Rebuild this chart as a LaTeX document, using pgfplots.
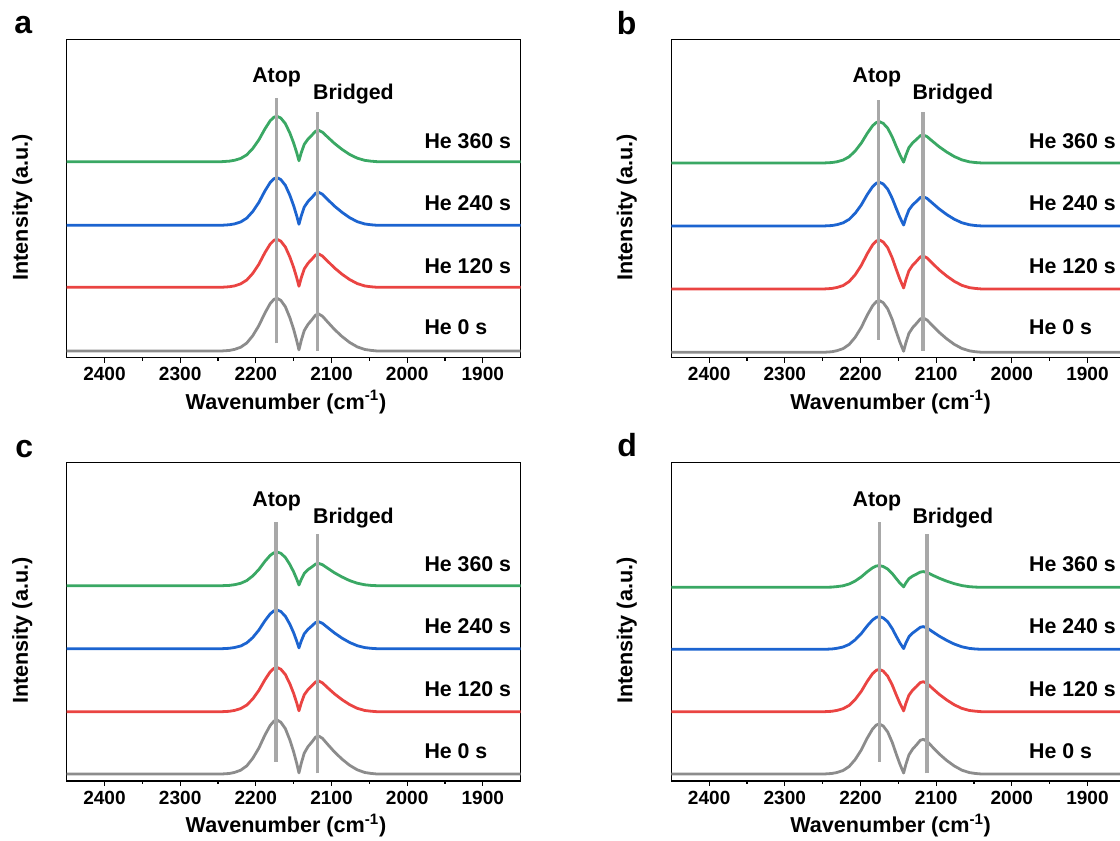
\documentclass[border=0pt]{standalone}
\usepackage{fontspec}
\setmainfont{Liberation Sans}
\usepackage{pgfplots}
\usepackage{pgfplotstable}
\pgfplotsset{compat=1.18}

\definecolor{cgray}{RGB}{140,140,140}
\definecolor{cred}{RGB}{234,68,66}
\definecolor{cblue}{RGB}{28,100,208}
\definecolor{cgreen}{RGB}{58,168,100}
\definecolor{cmark}{RGB}{168,168,168}

% Stacked CO-DRIFTS spectra, offset per trace (columns: wavenumber, He 0/120/240/360 s)
\pgfplotstableread{
w gray red blue green
2450 6.7 70.4 132.4 196.0
2245 6.7 70.4 132.4 196.0
2235 7.2 70.9 132.9 196.5
2228 8.3 71.8 133.8 197.4
2220 10.4 73.8 135.7 199.2
2212 14.6 77.6 139.5 202.8
2204 22.0 84.3 146.2 209.2
2196 32.0 93.4 155.2 217.8
2188 44.6 105.0 166.7 228.7
2181 54.1 113.6 175.2 236.9
2176 58.3 117.4 179.0 240.5
2172 59.4 118.4 180.0 241.4
2167 57.3 116.5 178.1 239.6
2161 51.0 110.7 172.4 234.1
2155 39.9 100.6 162.4 224.6
2150 28.3 90.1 151.9 214.6
2146 17.2 80.0 141.9 205.1
2143 7.8 71.4 133.4 196.9
2140 17.1 79.7 141.6 204.8
2136 27.1 88.7 150.6 213.3
2131 33.3 94.4 156.2 218.6
2126 37.8 98.4 160.1 222.4
2121 42.6 102.7 164.4 226.5
2117 43.7 103.7 165.4 227.4
2112 41.5 101.7 163.4 225.5
2105 35.6 96.4 158.1 220.5
2096 28.2 89.7 151.5 214.2
2086 21.1 83.4 145.3 208.2
2076 15.2 78.1 140.0 203.2
2066 10.8 74.1 136.0 199.5
2056 8.2 71.7 133.7 197.3
2048 7.3 70.9 132.9 196.5
2040 6.7 70.4 132.4 196.0
1850 6.7 70.4 132.4 196.0
}\dataA

\pgfplotstableread{
w gray red blue green
2450 5.4 68.7 131.7 194.7
2248 5.4 68.7 131.7 194.7
2238 5.9 69.2 132.1 195.1
2231 7.0 70.2 133.0 195.9
2223 9.0 72.1 134.8 197.6
2215 13.2 76.1 138.3 200.9
2207 20.4 82.9 144.4 206.7
2199 30.2 92.2 152.7 214.5
2191 42.6 104.0 163.2 224.4
2184 51.9 112.8 171.0 231.9
2179 56.1 116.7 174.5 235.2
2175 57.1 117.7 175.4 236.0
2170 55.0 115.7 173.7 234.3
2164 48.8 109.9 168.4 229.4
2158 38.0 99.6 159.2 220.7
2153 26.6 88.8 149.6 211.6
2148 15.7 78.5 140.4 203.0
2143 6.4 69.7 132.6 195.5
2140 15.0 77.9 139.9 202.5
2136 24.3 86.9 147.8 210.1
2131 30.1 92.5 152.8 214.9
2126 34.2 96.4 156.3 218.2
2121 38.7 100.7 160.1 221.9
2117 39.7 101.7 161.0 222.7
2112 37.6 99.7 159.2 221.0
2105 32.2 94.4 154.6 216.5
2096 25.3 87.8 148.7 210.9
2086 18.8 81.6 143.1 205.6
2076 13.3 76.3 138.4 201.1
2066 9.2 72.3 134.9 197.8
2056 6.8 70.0 132.9 195.8
2048 5.9 69.2 132.1 195.1
2040 5.4 68.7 131.7 194.7
1850 5.4 68.7 131.7 194.7
}\dataB

\pgfplotstableread{
w gray red blue green
2450 7.0 69.3 132.3 195.3
2245 7.0 69.3 132.3 195.3
2235 7.5 69.7 132.7 195.6
2228 8.6 70.6 133.5 196.3
2220 10.8 72.4 135.0 197.7
2212 15.1 75.9 138.1 200.4
2204 22.7 82.1 143.5 205.1
2196 32.9 90.6 150.9 211.5
2188 45.9 101.2 160.2 219.6
2181 55.6 109.2 167.1 225.6
2176 59.9 112.7 170.2 228.3
2172 61.0 113.6 171.0 229.0
2167 58.8 111.8 169.5 227.7
2161 52.4 106.5 164.8 223.6
2155 41.0 97.2 156.7 216.5
2150 29.1 87.5 148.2 209.1
2146 17.8 78.2 140.0 202.0
2143 8.1 70.2 133.1 196.0
2140 17.6 77.9 139.9 201.5
2136 27.9 86.2 147.2 207.6
2131 34.4 91.4 151.7 211.4
2126 38.9 95.1 155.0 214.0
2121 43.9 99.1 158.5 216.9
2117 45.0 100.0 159.3 217.6
2112 42.7 98.2 157.7 216.3
2105 36.6 93.2 153.4 212.7
2096 29.0 87.1 148.0 208.2
2086 21.8 81.3 142.8 204.0
2076 15.7 76.4 138.5 200.4
2066 11.2 72.7 135.3 197.8
2056 8.5 70.5 133.4 196.2
2048 7.6 69.8 132.7 195.6
2040 7.0 69.3 132.3 195.3
1850 7.0 69.3 132.3 195.3
}\dataC

\pgfplotstableread{
w gray red blue green
2450 7.0 69.3 131.7 193.7
2248 7.0 69.3 131.7 193.7
2238 7.5 69.7 132.0 193.9
2231 8.5 70.6 132.7 194.4
2223 10.5 72.3 134.0 195.2
2215 14.5 75.6 136.6 197.0
2207 21.5 81.6 141.2 200.0
2199 31.0 89.6 147.4 204.1
2191 43.0 99.8 155.2 209.3
2184 52.0 107.4 161.1 213.2
2179 56.0 110.8 163.7 215.0
2175 57.0 111.6 164.4 215.4
2170 55.0 109.9 163.1 214.5
2164 49.0 104.8 159.2 211.9
2158 38.5 95.9 152.3 207.4
2153 27.5 86.6 145.1 202.6
2148 17.0 77.8 138.2 198.0
2143 8.0 70.1 132.4 194.1
2140 16.7 77.7 138.1 198.1
2136 26.1 85.8 144.2 202.3
2131 32.0 90.9 148.0 205.0
2126 36.1 94.5 150.8 206.9
2121 40.7 98.4 153.7 208.9
2117 41.7 99.3 154.4 209.4
2112 39.6 97.5 153.0 208.5
2105 34.1 92.7 149.4 205.9
2096 27.1 86.7 144.9 202.8
2086 20.5 81.0 140.6 199.8
2076 15.0 76.2 136.9 197.3
2066 10.8 72.6 134.2 195.4
2056 8.4 70.5 132.6 194.3
2048 7.5 69.8 132.0 193.9
2040 7.0 69.3 131.7 193.7
1850 7.0 69.3 131.7 193.7
}\dataD

\pgfplotsset{
  irpanel/.style={
    scale only axis, width=340.5pt, height=238.8pt, anchor=south west,
    x dir=reverse, xmin=1850, xmax=2450, ymin=0, ymax=318.4,
    xtick={1900,2000,...,2400}, minor x tick num=1,
    ytick=\empty, xtick pos=left, tick align=outside,
    major tick length=3.75pt, minor tick length=2.25pt,
    every tick/.style={black, line width=0.8pt},
    axis line style={line width=0.9pt},
    clip mode=individual,
    /pgf/number format/1000 sep={},
    /pgf/number format/assume math mode=true,
    tick label style={font=\bfseries\fontsize{14.3}{16}\selectfont},
    xlabel={Wavenumber (cm\textsuperscript{-1})},
    ylabel={Intensity (a.u.)},
    xlabel style={at={(axis description cs:0.483,-0.162)}, anchor=base,
      font=\bfseries\fontsize{16.2}{19}\selectfont},
    ylabel style={at={(axis description cs:-0.098,0.472)}, anchor=center,
      font=\bfseries\fontsize{16.2}{19}\selectfont},
  },
  spec/.style={line width=2.1pt, line join=round},
  vmark/.style={cmark, line width=2.4pt},
}
\tikzset{
  lbl/.style={font=\bfseries\fontsize{16}{18}\selectfont, anchor=base west, inner sep=0pt},
  pk/.style={font=\bfseries\fontsize{16}{18}\selectfont, anchor=base, inner sep=0pt},
  letter/.style={anchor=base west, inner sep=0pt, font=\bfseries\fontsize{24}{28}\selectfont},
}

\begin{document}
\begin{tikzpicture}
\useasboundingbox (0,0) rectangle (840pt,630.75pt);
\clip (0,0) rectangle (840pt,630.75pt);

% panel a
\begin{axis}[irpanel, at={(50pt,362.5pt)}]
  \addplot[spec, cgray]  table[x=w, y=gray]  {\dataA};
  \addplot[spec, cred]   table[x=w, y=red]   {\dataA};
  \addplot[spec, cblue]  table[x=w, y=blue]  {\dataA};
  \addplot[spec, cgreen] table[x=w, y=green] {\dataA};
  \addplot[vmark] coordinates {(2173,14.4) (2173,259.4)};
  \addplot[vmark] coordinates {(2118,7) (2118,246)};
  \node[pk] at (axis cs:2172.6,275.4) {Atop};
  \node[pk] at (axis cs:2071,257.7) {Bridged};
  \node[lbl] at (axis cs:1977.4,209.4) {He 360 s};
  \node[lbl] at (axis cs:1977.4,147.0) {He 240 s};
  \node[lbl] at (axis cs:1977.4,84.4) {He 120 s};
  \node[lbl] at (axis cs:1977.4,22.7) {He 0 s};
\end{axis}

% panel b
\begin{axis}[irpanel, at={(503.5pt,362.5pt)}]
  \addplot[spec, cgray]  table[x=w, y=gray]  {\dataB};
  \addplot[spec, cred]   table[x=w, y=red]   {\dataB};
  \addplot[spec, cblue]  table[x=w, y=blue]  {\dataB};
  \addplot[spec, cgreen] table[x=w, y=green] {\dataB};
  \addplot[vmark] coordinates {(2176.5,17.7) (2176.5,257.7)};
  \addplot[vmark] coordinates {(2117.5,7) (2117.5,246)};
  \node[pk] at (axis cs:2178.3,275.4) {Atop};
  \node[pk] at (axis cs:2078,257.7) {Bridged};
  \node[lbl] at (axis cs:1977.4,209.4) {He 360 s};
  \node[lbl] at (axis cs:1977.4,147.0) {He 240 s};
  \node[lbl] at (axis cs:1977.4,84.4) {He 120 s};
  \node[lbl] at (axis cs:1977.4,22.7) {He 0 s};
\end{axis}

% panel c
\begin{axis}[irpanel, at={(50pt,45pt)}]
  \addplot[spec, cgray]  table[x=w, y=gray]  {\dataC};
  \addplot[spec, cred]   table[x=w, y=red]   {\dataC};
  \addplot[spec, cblue]  table[x=w, y=blue]  {\dataC};
  \addplot[spec, cgreen] table[x=w, y=green] {\dataC};
  \addplot[vmark] coordinates {(2173.4,19.3) (2173.4,259.3)};
  \addplot[vmark] coordinates {(2119,7.7) (2119,247)};
  \node[pk] at (axis cs:2172.4,274.5) {Atop};
  \node[pk] at (axis cs:2071,257) {Bridged};
  \node[lbl] at (axis cs:1977.4,209.4) {He 360 s};
  \node[lbl] at (axis cs:1977.4,147.0) {He 240 s};
  \node[lbl] at (axis cs:1977.4,84.4) {He 120 s};
  \node[lbl] at (axis cs:1977.4,22.7) {He 0 s};
\end{axis}

% panel d
\begin{axis}[irpanel, at={(503.5pt,45pt)}]
  \addplot[spec, cgray]  table[x=w, y=gray]  {\dataD};
  \addplot[spec, cred]   table[x=w, y=red]   {\dataD};
  \addplot[spec, cblue]  table[x=w, y=blue]  {\dataD};
  \addplot[spec, cgreen] table[x=w, y=green] {\dataD};
  \addplot[vmark] coordinates {(2175.3,19.3) (2175.3,259.3)};
  \addplot[vmark] coordinates {(2112,7.7) (2112,247)};
  \node[pk] at (axis cs:2178.3,274.5) {Atop};
  \node[pk] at (axis cs:2078,257) {Bridged};
  \node[lbl] at (axis cs:1977.4,209.4) {He 360 s};
  \node[lbl] at (axis cs:1977.4,147.0) {He 240 s};
  \node[lbl] at (axis cs:1977.4,84.4) {He 120 s};
  \node[lbl] at (axis cs:1977.4,22.7) {He 0 s};
\end{axis}

% panel letters
\node[letter] at (10.5pt,605.8pt) {a};
\node[letter] at (462.5pt,605.0pt) {b};
\node[letter] at (11.25pt,287.8pt) {c};
\node[letter] at (462.75pt,288.2pt) {d};
\end{tikzpicture}
\end{document}
